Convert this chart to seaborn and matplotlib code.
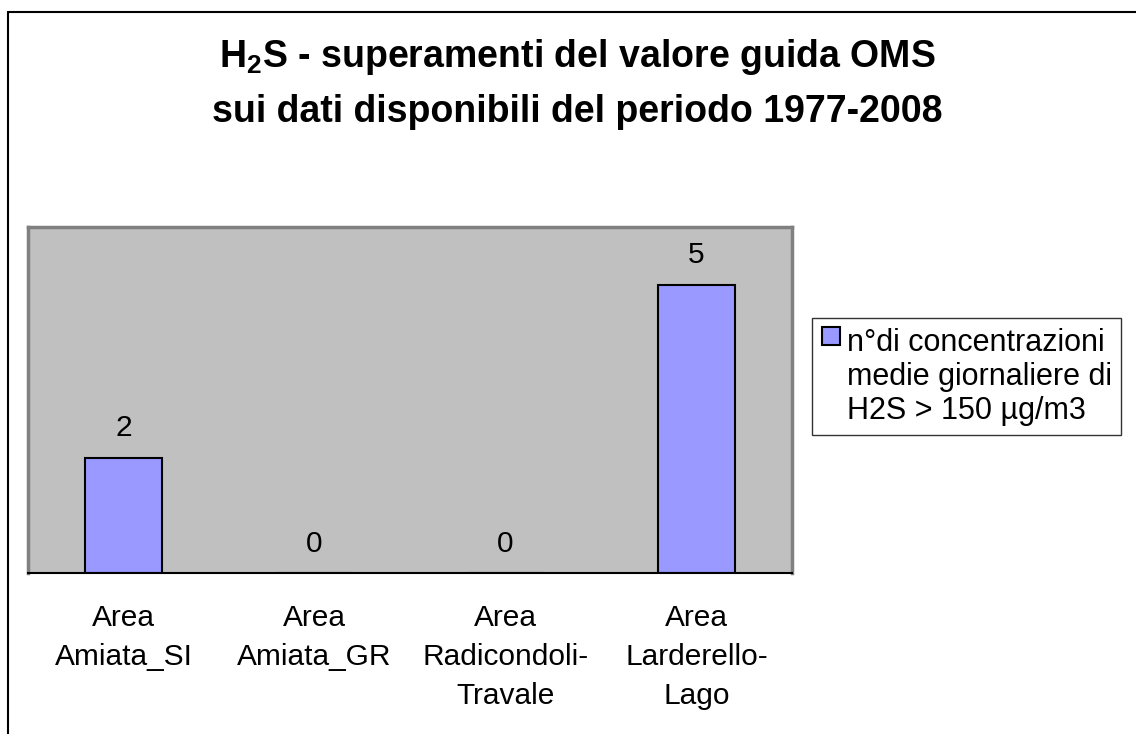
import matplotlib
matplotlib.use("Agg")
import matplotlib.pyplot as plt
import seaborn as sns
from matplotlib.patches import Patch, Rectangle
from matplotlib.lines import Line2D
from matplotlib.legend_handler import HandlerPatch

categories = ["Area Amiata_SI", "Area Amiata_GR", "Area Radicondoli-Travale", "Area Larderello-Lago"]
tick_labels = ["Area\nAmiata_SI", "Area\nAmiata_GR", "Area\nRadicondoli-\nTravale", "Area\nLarderello-\nLago"]
values = [2, 0, 0, 5]
legend_label = "n°di concentrazioni\nmedie giornaliere di\nH2S > 150 µg/m3"
title_1 = r"$\mathrm{H_2S}$ - superamenti del valore guida OMS"
title_2 = "sui dati disponibili del periodo 1977-2008"

sns.set_style("white")
plt.rcParams["font.family"] = ["Liberation Sans", "DejaVu Sans"]
plt.rcParams["text.color"] = "black"
plt.rcParams["xtick.color"] = "black"
plt.rcParams["xtick.labelcolor"] = "black"
plt.rcParams["mathtext.fontset"] = "custom"
plt.rcParams["mathtext.rm"] = "Liberation Sans:bold"

W, H = 1136, 734
fig = plt.figure(figsize=(W / 100, H / 100), dpi=100)
ax = fig.add_axes([28 / W, 1 - 573 / H, (792 - 28) / W, (573 - 227) / H])
ax.set_facecolor("#C0C0C0")

sns.barplot(x=categories, y=values, color="#9999FF", edgecolor="black",
            linewidth=1.5, width=0.4, saturation=1, ax=ax)
ax.bar_label(ax.containers[0], fmt="%d", padding=11, fontsize=21.5, color="black")

ax.set_ylim(0, 6)
ax.set_xlim(-0.5, 3.5)
ax.set_yticks([])
ax.set_xticks([-0.5, 0.5, 1.5, 2.5, 3.5], labels=[""] * 5)
ax.set_xticks(range(4), labels=tick_labels, minor=True)
ax.tick_params(axis="x", which="major", direction="out", length=7, width=1, color="black")
ax.tick_params(axis="x", which="minor", length=0, pad=22, labelsize=21.5)
for lab in ax.get_xticklabels(minor=True):
    lab.set_linespacing(1.5)
ax.set_xlabel("")
ax.set_ylabel("")
for s in ["left", "top", "right"]:
    ax.spines[s].set_color("#808080")
    ax.spines[s].set_linewidth(2.5)
ax.spines["bottom"].set_color("black")
ax.spines["bottom"].set_linewidth(1.5)


def top_square(legend, orig_handle, xdescent, ydescent, width, height, fontsize):
    # square sits beside the first line of the label
    s = 0.59 * fontsize
    return Rectangle((-xdescent, -ydescent + height - s + 0.55 * fontsize), s, s)


handle = Patch(facecolor="#9999FF", edgecolor="black", linewidth=1.5)
leg = fig.legend(handles=[handle], labels=[legend_label], loc="upper left",
                 bbox_to_anchor=(812 / W, 1 - 318 / H), fontsize=22,
                 frameon=True, fancybox=False, edgecolor="black",
                 handlelength=0.59, handleheight=3.2, handletextpad=0.22,
                 borderpad=0.32, borderaxespad=0,
                 handler_map={Patch: HandlerPatch(patch_func=top_square)})
leg.get_frame().set_linewidth(1)
for t in leg.get_texts():
    t.set_linespacing(1.17)

fig.text(577 / W, 1 - 57 / H, title_1, ha="center", va="center",
         fontsize=27, fontweight="bold")
fig.text(577 / W, 1 - 112 / H, title_2, ha="center", va="center",
         fontsize=27, fontweight="bold")

x0 = 8 / W
y0 = 1 - 12 / H
fig.add_artist(Line2D([x0, x0], [-0.1, y0], color="black", linewidth=1.5))
fig.add_artist(Line2D([x0, 1.1], [y0, y0], color="black", linewidth=1.5))

fig.savefig("out.png", dpi=100)
